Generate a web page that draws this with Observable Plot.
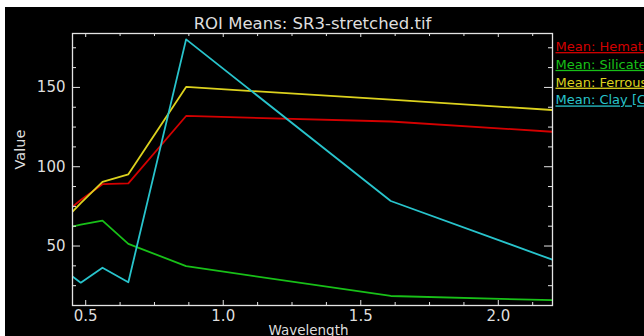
<!DOCTYPE html>
<html>
<head>
<meta charset="utf-8">
<script src="https://cdn.jsdelivr.net/npm/d3@7"></script>
<script src="https://cdn.jsdelivr.net/npm/@observablehq/plot@0.6"></script>
<style>
  html, body { margin: 0; padding: 0; background: #ffffff; overflow: hidden; }
  #wrap { padding: 7px 0 0 5px; width: 639px; height: 329px; }
</style>
</head>
<body>
<div id="wrap"></div>
<script>
// ---- data ----
const wavelength = [0.443, 0.482, 0.561, 0.655, 0.865, 1.609, 2.201];
const hematite   = [73.5, 79, 89, 89.5, 132, 128.5, 122];
const silicate   = [62, 63.5, 66, 51.4, 37.3, 18.5, 15.8];
const ferrous    = [70, 77, 90.5, 95.2, 150.3, 142.3, 135.7];
const clay       = [32, 26.9, 36.3, 27.2, 180.3, 78.4, 41.1];

const seriesNames  = ["Hematite", "Silicate", "Ferrous", "Clay"];
const legendLabels = ["Mean: Hematite", "Mean: Silicate", "Mean: Ferrous", "Mean: Clay [Cyan]"];
const seriesColors = ["#d40000", "#18c018", "#dcd21e", "#28c4cc"];

const xMajor = [0.5, 1.0, 1.5, 2.0];
const xMinor = [0.625, 0.75, 0.875, 1.125, 1.25, 1.375, 1.625, 1.75, 1.875, 2.125];
const yMajor = [50, 100, 150];
const yMinor = [25, 37.5, 62.5, 75, 87.5, 112.5, 125, 137.5, 162.5, 175];

const xDomain = [0.452, 2.197];
const yDomain = [12.5, 184];

const title = "ROI Means: SR3-stretched.tif";
const xLabel = "Wavelength";
const yLabel = "Value";

// ---- table ----
const allSeries = [hematite, silicate, ferrous, clay];
const rows = [];
allSeries.forEach((vals, s) => {
  vals.forEach((v, i) => rows.push({series: seriesNames[s], wavelength: wavelength[i], value: v}));
});

// ---- layout ----
const W = 639, H = 329;
const mL = 67, mR = 92, mT = 26, mB = 31;
const iw = W - mL - mR;
const ih = H - mT - mB;
const axisColor = "#e4e4e4";

const legendMarks = legendLabels.map((t, i) =>
  Plot.text([t], {
    text: d => d, frameAnchor: "top-right", textAnchor: "start",
    dx: 3, dy: 8.3 + i * 17.8, fill: seriesColors[i], fontSize: 13
  })
);

const chart = Plot.plot({
  width: W, height: H,
  marginLeft: mL, marginRight: mR, marginTop: mT, marginBottom: mB,
  style: {background: "black", color: "#dedede", fontFamily: "DejaVu Sans", fontSize: "14.5px"},
  x: {domain: xDomain},
  y: {domain: yDomain},
  color: {domain: seriesNames, range: seriesColors},
  marks: [
    Plot.line(rows, {x: "wavelength", y: "value", z: "series", stroke: "series", strokeWidth: 1.8, clip: true}),
    Plot.frame({stroke: axisColor, strokeWidth: 1.3}),
    // bottom ticks (inward)
    Plot.tickX(xMajor, {x: d => d, stroke: axisColor, insetTop: ih - 5}),
    Plot.tickX(xMinor, {x: d => d, stroke: axisColor, insetTop: ih - 3}),
    // top ticks (inward)
    Plot.tickX(xMajor, {x: d => d, stroke: axisColor, insetBottom: ih - 4}),
    Plot.tickX(xMinor, {x: d => d, stroke: axisColor, insetBottom: ih - 3}),
    // left ticks
    Plot.tickY(yMajor, {y: d => d, stroke: axisColor, insetRight: iw - 8}),
    Plot.tickY(yMinor, {y: d => d, stroke: axisColor, insetRight: iw - 4}),
    // right ticks
    Plot.tickY(yMajor, {y: d => d, stroke: axisColor, insetLeft: iw - 8}),
    Plot.tickY(yMinor, {y: d => d, stroke: axisColor, insetLeft: iw - 4}),
    Plot.axisX(xMajor, {tickSize: 0, tickPadding: 4.5, tickFormat: d3.format(".1f"), label: null, fontSize: 15}),
    Plot.axisY(yMajor, {tickSize: 0, tickPadding: 7, tickFormat: d3.format("d"), label: null, fontSize: 15}),
    Plot.text([title], {text: d => d, frameAnchor: "top", lineAnchor: "bottom", dy: -5, fontSize: 16.5}),
    Plot.text([yLabel], {text: d => d, frameAnchor: "left", rotate: -90, dx: -52, fontSize: 14.5}),
    Plot.text([xLabel], {text: d => d, frameAnchor: "bottom", lineAnchor: "bottom", dy: 29, dx: -4, fontSize: 13.5}),
    ...legendMarks
  ]
});

d3.select(chart).selectAll("text")
  .filter(function() { return this.textContent.startsWith("Mean:"); })
  .style("text-decoration", "underline");

document.getElementById("wrap").appendChild(chart);
</script>
</body>
</html>
